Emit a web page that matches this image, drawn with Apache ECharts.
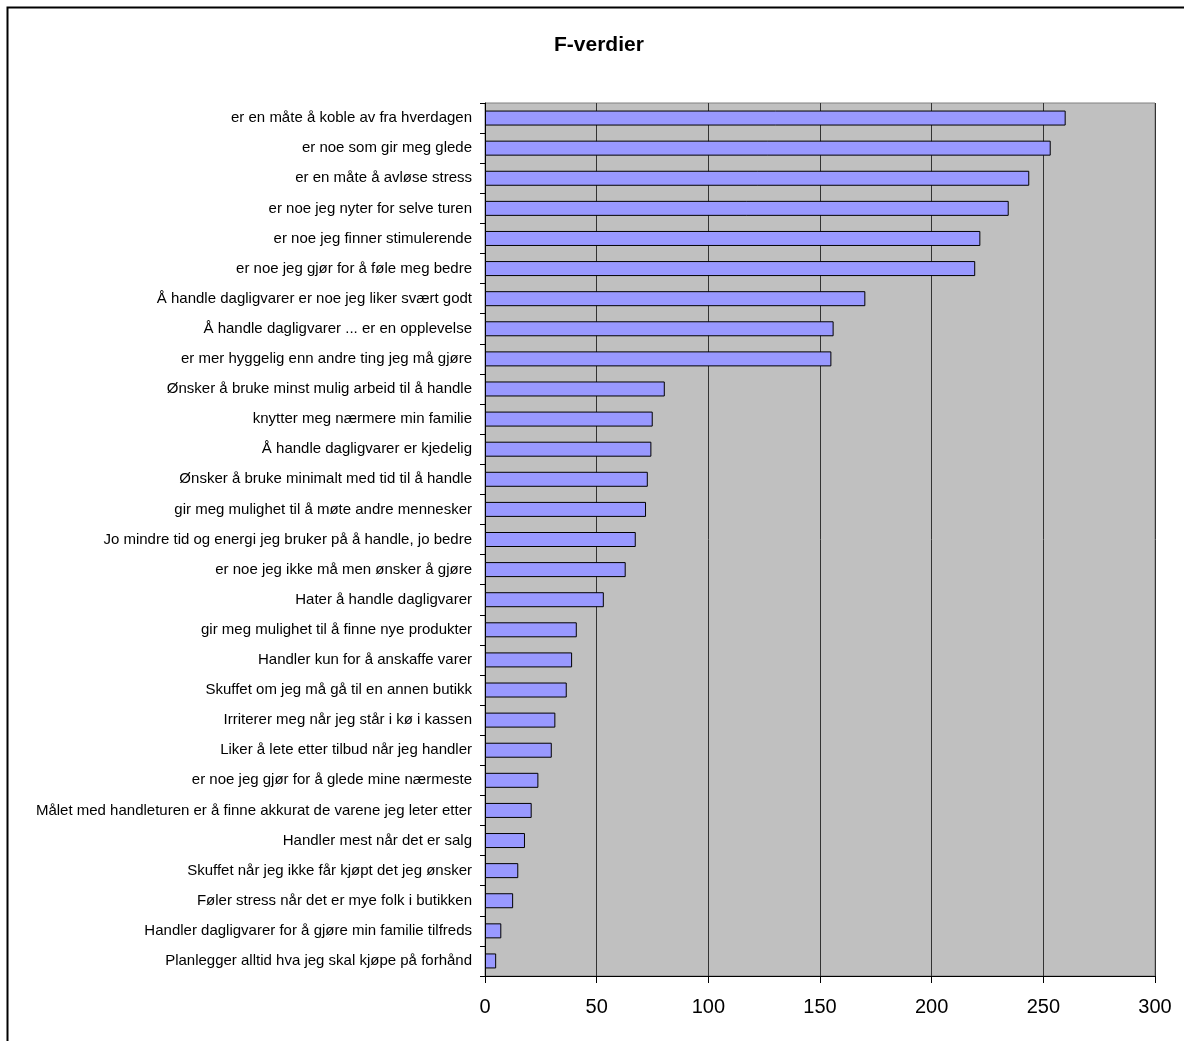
<!DOCTYPE html>
<html><head><meta charset="utf-8">
<script src="https://cdn.jsdelivr.net/npm/echarts@6/dist/echarts.min.js"></script>
<style>html,body{margin:0;padding:0;background:#fff}#c{width:1184px;height:1041px}</style>
</head><body><div id="c"></div>
<script>
const categories = [
"er en måte å koble av fra hverdagen",
"er noe som gir meg glede",
"er en måte å avløse stress",
"er noe jeg nyter for selve turen",
"er noe jeg finner stimulerende",
"er noe jeg gjør for å føle meg bedre",
"Å handle dagligvarer er noe jeg liker svært godt",
"Å handle dagligvarer ... er en opplevelse",
"er mer hyggelig enn andre ting jeg må gjøre",
"Ønsker å bruke minst mulig arbeid til å handle",
"knytter meg nærmere min familie",
"Å handle dagligvarer er kjedelig",
"Ønsker å bruke minimalt med tid til å handle",
"gir meg mulighet til å møte andre mennesker",
"Jo mindre tid og energi jeg bruker på å handle, jo bedre",
"er noe jeg ikke må men ønsker å gjøre",
"Hater å handle dagligvarer",
"gir meg mulighet til å finne nye produkter",
"Handler kun for å anskaffe varer",
"Skuffet om jeg må gå til en annen butikk",
"Irriterer meg når jeg står i kø i kassen",
"Liker å lete etter tilbud når jeg handler",
"er noe jeg gjør for å glede mine nærmeste",
"Målet med handleturen er å finne akkurat de varene jeg leter etter",
"Handler mest når det er salg",
"Skuffet når jeg ikke får kjøpt det jeg ønsker",
"Føler stress når det er mye folk i butikken",
"Handler dagligvarer for å gjøre min familie tilfreds",
"Planlegger alltid hva jeg skal kjøpe på forhånd"
];
const fValues = [260, 253.3, 243.7, 234.5, 221.8, 219.5, 170.3, 156.1, 155.1, 80.5, 75.1, 74.5, 72.9, 72.1, 67.5, 63.0, 53.2, 41.1, 39.0, 36.6, 31.5, 29.9, 23.9, 20.9, 17.9, 14.9, 12.6, 7.3, 5.0];
const xTicks = {min: 0, max: 300, interval: 50};
const titleText = "F-verdier";

const chart = echarts.init(document.getElementById('c'), null, {renderer: 'canvas'});
chart.setOption({
  animation: false,
  backgroundColor: '#fff',
  title: {
    text: titleText, left: 554, top: 35, padding: 0,
    textStyle: {fontFamily: 'Liberation Sans, Arial', fontSize: 21, fontWeight: 'bold', color: '#000'}
  },
  graphic: [{
    type: 'rect', shape: {x: 7.5, y: 7.5, width: 1190, height: 1050},
    style: {fill: 'none', stroke: '#000', lineWidth: 2}, silent: true
  }],
  grid: {
    left: 485, right: 29, top: 103, bottom: 65, show: true,
    backgroundColor: '#C0C0C0', borderColor: '#808080', borderWidth: 1
  },
  xAxis: {
    type: 'value', min: xTicks.min, max: xTicks.max, interval: xTicks.interval,
    axisLine: {show: true, lineStyle: {color: '#000', width: 1}},
    axisTick: {show: true, length: 7, lineStyle: {color: '#000'}},
    axisLabel: {color: '#000', fontSize: 20, fontFamily: 'Liberation Sans, Arial', margin: 21},
    splitLine: {show: true, lineStyle: {color: '#333', width: 1}}
  },
  yAxis: {
    type: 'category', data: categories, inverse: true,
    axisLine: {show: true, lineStyle: {color: '#000', width: 1}},
    axisTick: {show: true, length: 5, alignWithLabel: false, lineStyle: {color: '#000'}},
    axisLabel: {color: '#000', fontSize: 15, fontFamily: 'Liberation Sans, Arial', margin: 13},
    splitLine: {show: false}
  },
  series: [{
    type: 'bar', data: fValues, barWidth: 15,
    itemStyle: {color: '#9999FF', borderColor: '#000', borderWidth: 1}
  }]
});
</script></body></html>
